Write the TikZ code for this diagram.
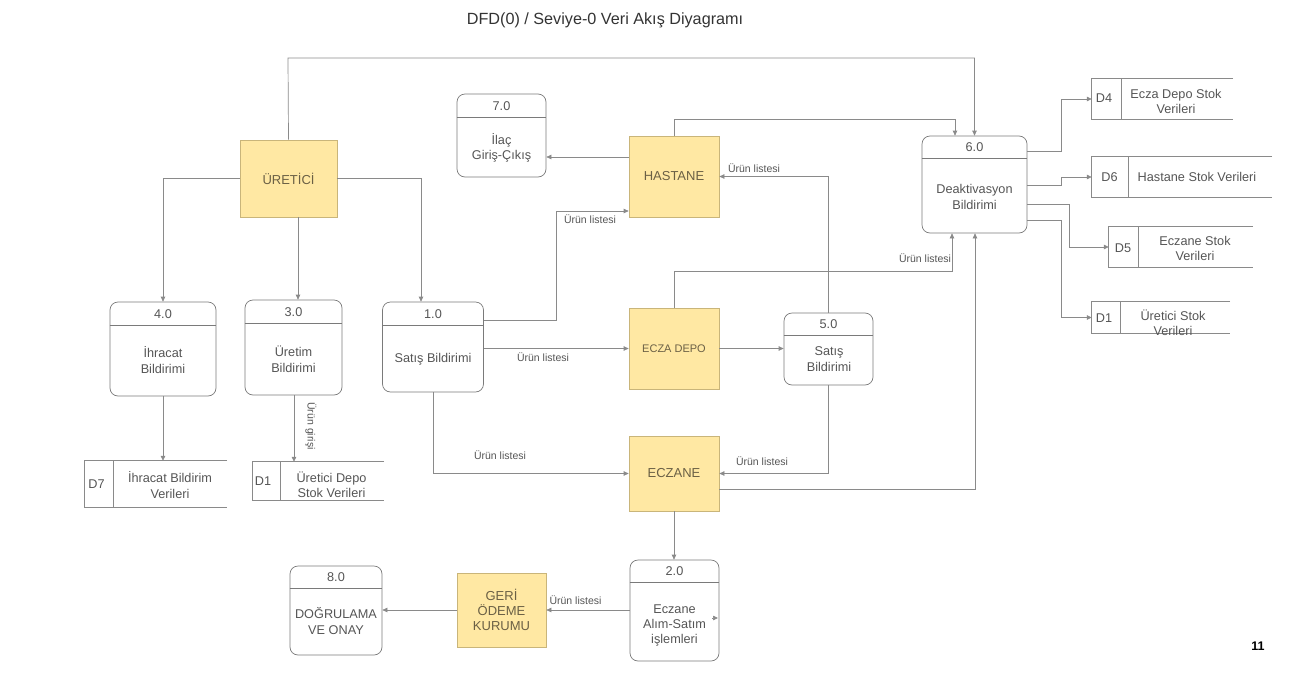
\documentclass[tikz,border=0pt]{standalone}
\usepackage{fontspec}
\setmainfont{Liberation Sans}
\usetikzlibrary{arrows.meta,calc}
\definecolor{linec}{HTML}{8A8A8A}
\definecolor{boxc}{HTML}{7A7A7A}
\definecolor{txtc}{HTML}{555555}
\definecolor{entf}{HTML}{FFE8A3}
\definecolor{entb}{HTML}{C9B57A}
\definecolor{entt}{HTML}{6B6045}
\tikzset{
 proc/.style={draw=boxc, rounded corners=8pt, line width=0.7pt, inner sep=0},
 ent/.style={draw=entb, fill=entf, line width=0.7pt, text=entt, inner sep=0, align=center, font=\fontsize{13}{15}\selectfont},
 flow/.style={draw=linec, line width=0.7pt, -{Triangle[length=5pt,width=4.5pt]}},
 lnk/.style={draw=boxc, line width=0.7pt},
 storeln/.style={draw=linec, line width=0.7pt},
 lbl/.style={text=txtc, font=\fontsize{10.5}{12}\selectfont, inner sep=0},
 txt/.style={text=txtc, font=\fontsize{12.7}{15.5}\selectfont, align=center, inner sep=0},
 hole/.style={inner sep=0, minimum width=#1},
}
\begin{document}
\begin{tikzpicture}[x=1pt,y=-1pt]
\useasboundingbox (0,0) rectangle (1299,675);
% title
\node[text=black!80, font=\fontsize{16.2}{18}\selectfont, inner sep=0] (title) at (605,20) {DFD(0) / Seviye-0 Veri Akış Diyagramı};
\node[font=\bfseries\fontsize{12.5}{14}\selectfont, inner sep=0] (pg) at (1258,646) {11};

% processes
\node[proc, minimum width=89pt, minimum height=83pt] (p7) at (501.5,135.5) {};
\node[proc, minimum width=106pt, minimum height=94pt] (p4) at (163,349) {};
\node[proc, minimum width=97pt, minimum height=95pt] (p3) at (293.5,347.5) {};
\node[proc, minimum width=101pt, minimum height=90pt] (p1) at (433,347) {};
\node[proc, minimum width=89pt, minimum height=72pt] (p5) at (828.5,349) {};
\node[proc, minimum width=105pt, minimum height=97pt] (p6) at (974.5,184.5) {};
\node[proc, minimum width=89pt, minimum height=101pt] (p2) at (674.5,610.5) {};
\node[proc, minimum width=92pt, minimum height=89pt] (p8) at (336,610.5) {};
\foreach \p in {p7,p4,p3,p1}{
  \draw[lnk] ([yshift=-24pt]\p.north west) -- ([yshift=-24pt]\p.north east);}
\foreach \p in {p5,p6,p2,p8}{
  \draw[lnk] ([yshift=-23pt]\p.north west) -- ([yshift=-23pt]\p.north east);}
\node[txt] (p7n) at ([yshift=-12pt]p7.north) {7.0};
\node[txt] (p4n) at ([yshift=-12pt]p4.north) {4.0};
\node[txt] (p3n) at ([yshift=-12pt]p3.north) {3.0};
\node[txt] (p1n) at ([yshift=-12pt]p1.north) {1.0};
\node[txt] (p5n) at ([yshift=-11.5pt]p5.north) {5.0};
\node[txt] (p6n) at ([yshift=-11.5pt]p6.north) {6.0};
\node[txt] (p2n) at ([yshift=-11.5pt]p2.north) {2.0};
\node[txt] (p8n) at ([yshift=-11.5pt]p8.north) {8.0};
\node[txt] (p7t) at (501.5,148) {İlaç\\Giriş-Çıkış};
\node[txt] (p4t) at (163,360) {İhracat\\Bildirimi};
\node[txt] (p3t) at (293.5,359) {Üretim\\Bildirimi};
\node[txt] (p1t) at (433,359) {Satış Bildirimi};
\node[txt] (p5t) at (829,359) {Satış\\Bildirimi};
\node[txt] (p6t) at (974.5,197) {Deaktivasyon\\Bildirimi};
\node[txt, font=\fontsize{12.7}{15}\selectfont] (p2t) at (674.5,625) {Eczane\\Alım-Satım\\işlemleri};
\node[txt] (p8t) at (336,621) {DOĞRULAMA\\VE ONAY};

% external entities
\node[ent, minimum width=97pt, minimum height=77pt] (ure) at (288.5,178.5) {ÜRETİCİ};
\node[ent, minimum width=90pt, minimum height=81pt] (has) at (674,176.5) {HASTANE};
\node[ent, minimum width=90pt, minimum height=81pt, font=\fontsize{11}{13}\selectfont] (ecd) at (674,348.5) {ECZA DEPO};
\node[ent, minimum width=90pt, minimum height=75pt] (ecz) at (674,473.5) {ECZANE};
\node[ent, minimum width=89pt, minimum height=74pt] (geri) at (501.5,610) {GERİ\\ÖDEME\\KURUMU};

% data stores
\node[hole=141pt, minimum height=40pt] (d4) at (1162.5,99) {};
\node[hole=180pt, minimum height=40pt] (d6) at (1182,177) {};
\node[hole=144pt, minimum height=40pt] (d5) at (1181,247) {};
\node[hole=138pt, minimum height=31pt] (d1b) at (1161,317.5) {};
\node[hole=142pt, minimum height=46pt] (d7) at (156,484) {};
\node[hole=131pt, minimum height=38pt] (d1a) at (318.5,481) {};
\foreach \d/\v in {d4/1121,d6/1128,d5/1138,d1b/1120,d7/113,d1a/280}{
  \draw[storeln] (\d.north east) -- (\d.north west) -- (\d.south west) -- (\d.south east);
  \draw[storeln] (\v,0 |- \d.north) -- (\v,0 |- \d.south);}
\node[txt] (d4i) at (1104,98) {D4};
\node[txt] (d4t) at (1176,101.5) {Ecza Depo Stok\\Verileri};
\node[txt] (d6i) at (1109.5,177) {D6};
\node[txt] (d6t) at (1197,176.5) {Hastane Stok Verileri};
\node[txt] (d5i) at (1123,248.5) {D5};
\node[txt] (d5t) at (1195,248.5) {Eczane Stok\\Verileri};
\node[txt] (d1bi) at (1104,318) {D1};
\node[txt] (d1bt) at (1173,322.5) {Üretici Stok\\Verileri};
\node[txt] (d7i) at (96.5,484) {D7};
\node[txt] (d7t) at (170,485) {İhracat Bildirim\\Verileri};
\node[txt] (d1ai) at (263,481) {D1};
\node[txt] (d1at) at (331.5,484.5) {Üretici Depo\\Stok Verileri};

% flows
\draw[flow] (ure.north) -- (288,58) -| (p6.north);
\draw[flow] (has.north) |- (955,119) -- (955,0 |- p6.north);
\draw[flow] (ure.west) -| (p4.north);
\draw[flow] (298,0 |- ure.south) -- (298,0 |- p3.north);
\draw[flow] (ure.east) -| (421,0 |- p1.north);
\draw[flow] (p1.east |- 0,320) -- (556,320) |- (has.west |- 0,211);
\draw[flow] (p1.east |- ecd.west) -- (ecd.west);
\draw[flow] (p1.south) |- (ecz.west);
\draw[flow] (has.west |- 0,157) -- (p7.east |- 0,157);
\draw[flow] (p5.north) |- (has.east);
\draw[flow] (ecd.north) |- (952,271) -- (952,0 |- p6.south);
\draw[flow] (ecd.east) -- (p5.west |- ecd.east);
\draw[flow] (p5.south) |- (ecz.east);
\draw[flow] (ecz.east |- 0,489) -| (975,0 |- p6.south);
\draw[flow] (ecz.south) -- (ecz.south |- p2.north);
\draw[flow] (p2.west |- geri.east) -- (geri.east);
\draw[flow] (geri.west) -- (p8.east |- geri.west);
\draw[flow] (p4.south) -- (p4.south |- d7.north);
\draw[flow] (294,0 |- p3.south) -- (294,0 |- d1a.north);
\draw[flow] (p6.east |- 0,151) -- (1061,151) |- (d4.west);
\draw[flow] (p6.east |- 0,185) -- (1061,185) |- (d6.west);
\draw[flow] (p6.east |- 0,204) -- (1069,204) |- (d5.west);
\draw[flow] (p6.east |- 0,220) -- (1061,220) |- (d1b.west);
\coordinate (stray) at (712,618);
\draw[flow] (stray) -- ++(6,0);

% flow labels
\node[lbl] (l1) at (590,219) {Ürün listesi};
\node[lbl] (l2) at (543,357) {Ürün listesi};
\node[lbl] (l3) at (500,455) {Ürün listesi};
\node[lbl] (l4) at (754,168.5) {Ürün listesi};
\node[lbl] (l5) at (925,258.5) {Ürün listesi};
\node[lbl] (l6) at (762,461) {Ürün listesi};
\node[lbl] (l7) at (575.5,600) {Ürün listesi};
\node[lbl, rotate=-90] (l8) at (311,426) {Ürün girişi};
\end{tikzpicture}
\end{document}
